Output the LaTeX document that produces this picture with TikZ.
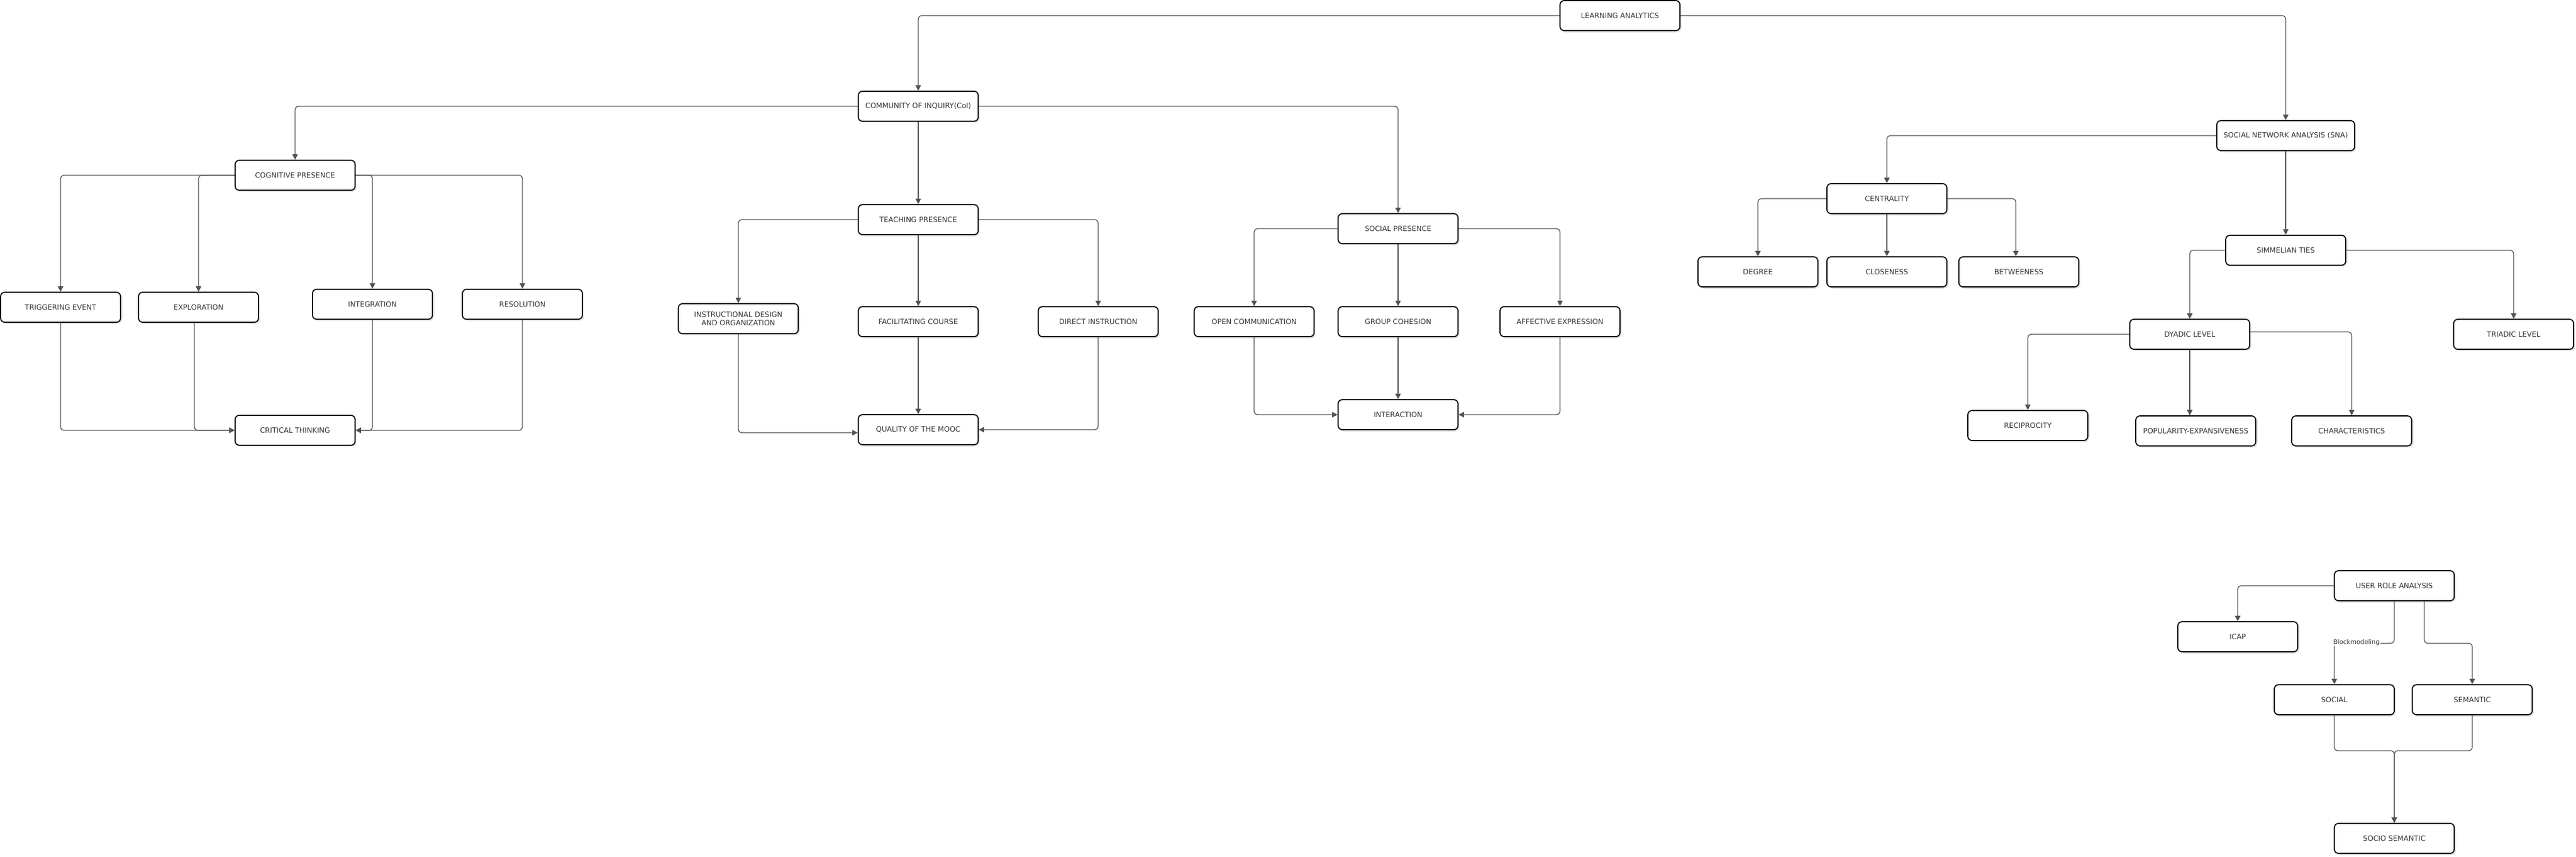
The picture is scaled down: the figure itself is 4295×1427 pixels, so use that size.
\documentclass[tikz,border=0pt]{standalone}
\usepackage{fontspec}
\setmainfont{DejaVu Sans}
\usetikzlibrary{positioning,shadows,arrows.meta}

\begin{document}
\begin{tikzpicture}[x=1pt,y=-1pt,
    box/.style={draw,rounded corners=7pt,line width=1.8pt,fill=white,minimum width=200pt,minimum height=50pt,align=center,
        font=\fontsize{12}{14}\selectfont,text=black!80,drop shadow={shadow xshift=2.5pt,shadow yshift=-2.5pt,opacity=0.25}},
    conn/.style={draw=black!68,line width=1.3pt,rounded corners=6pt},
    >={Triangle[length=9pt,width=9pt]}]
            \useasboundingbox (0,0) rectangle (4295,1427);
            \node[box] (la) at (2701,26) {LEARNING ANALYTICS};
            \node[box] (coi) at (1531,177) {COMMUNITY OF INQUIRY(CoI)};
            \node[box] (cog) at (492,292) {COGNITIVE PRESENCE};
            \node[box] (teach) at (1531,366) {TEACHING PRESENCE};
            \node[box] (socp) at (2331,381) {SOCIAL PRESENCE};
            \node[box,minimum width=230pt] (sna) at (3811,226) {SOCIAL NETWORK ANALYSIS (SNA)};
            \node[box] (trig) at (101,512) {TRIGGERING EVENT};
            \node[box] (expl) at (331,512) {EXPLORATION};
            \node[box] (integ) at (621,507) {INTEGRATION};
            \node[box] (resol) at (871,507) {RESOLUTION};
            \node[box] (crit) at (492,717) {CRITICAL THINKING};
            \node[box] (instr) at (1231,531) {INSTRUCTIONAL DESIGN\\AND ORGANIZATION};
            \node[box] (facil) at (1531,536) {FACILITATING COURSE};
            \node[box] (direct) at (1831,536) {DIRECT INSTRUCTION};
            \node[box] (mooc) at (1531,716) {QUALITY OF THE MOOC};
            \node[box] (open) at (2091,536) {OPEN COMMUNICATION};
            \node[box] (cohes) at (2331,536) {GROUP COHESION};
            \node[box] (affect) at (2601,536) {AFFECTIVE EXPRESSION};
            \node[box] (inter) at (2331,691) {INTERACTION};
            \node[box] (centr) at (3146,331) {CENTRALITY};
            \node[box] (degree) at (2931,453) {DEGREE};
            \node[box] (close) at (3146,453) {CLOSENESS};
            \node[box] (betw) at (3366,453) {BETWEENESS};
            \node[box] (simm) at (3811,417) {SIMMELIAN TIES};
            \node[box] (dyad) at (3651,557) {DYADIC LEVEL};
            \node[box] (triad) at (4191,557) {TRIADIC LEVEL};
            \node[box] (recip) at (3381,709) {RECIPROCITY};
            \node[box] (popul) at (3661,718) {POPULARITY-EXPANSIVENESS};
            \node[box] (charac) at (3921,718) {CHARACTERISTICS};
            \node[box] (ura) at (3992,976) {USER ROLE ANALYSIS};
            \node[box] (icap) at (3731,1061) {ICAP};
            \node[box] (social) at (3892,1166) {SOCIAL};
            \node[box] (seman) at (4122,1166) {SEMANTIC};
            \node[box] (socsem) at (3992,1397) {SOCIO SEMANTIC};
            \draw[conn,->] (la.west) -| (coi.north);
            \draw[conn,->] (la.east) -| (sna.north);
            \draw[conn,->] (coi.west) -| (cog.north);
            \draw[conn,->] (coi.south) -- (teach.north);
            \draw[conn,->] (coi.east) -| (socp.north);
            \draw[conn,->] (cog.west) -| (trig.north);
            \draw[conn,->] (cog.west) -| (expl.north);
            \draw[conn,->] (cog.east) -| (integ.north);
            \draw[conn,->] (cog.east) -| (resol.north);
            \draw[conn,->] (trig.south) |- (crit.west);
            \draw[conn,->] ([xshift=-7pt]expl.south) |- (crit.west);
            \draw[conn,->] (integ.south) |- (crit.east);
            \draw[conn,->] (resol.south) |- (crit.east);
            \draw[conn,->] (teach.west) -| (instr.north);
            \draw[conn,->] (teach.south) -- (facil.north);
            \draw[conn,->] (teach.east) -| (direct.north);
            \draw[conn,->] (instr.south) |- ([yshift=-5pt]mooc.west);
            \draw[conn,->] (facil.south) -- (mooc.north);
            \draw[conn,->] (direct.south) |- (mooc.east);
            \draw[conn,->] (socp.west) -| (open.north);
            \draw[conn,->] (socp.south) -- (cohes.north);
            \draw[conn,->] (socp.east) -| (affect.north);
            \draw[conn,->] (open.south) |- (inter.west);
            \draw[conn,->] (cohes.south) -- (inter.north);
            \draw[conn,->] (affect.south) |- (inter.east);
            \draw[conn,->] (sna.west) -| (centr.north);
            \draw[conn,->] (sna.south) -- (simm.north);
            \draw[conn,->] (centr.west) -| (degree.north);
            \draw[conn,->] (centr.south) -- (close.north);
            \draw[conn,->] (centr.east) -| ([xshift=-5pt]betw.north);
            \draw[conn,->] (simm.west) -| (dyad.north);
            \draw[conn,->] (simm.east) -| (triad.north);
            \draw[conn,->] (dyad.west) -| (recip.north);
            \draw[conn,->] (dyad.south) -- (dyad.south |- popul.north);
            \draw[conn,->] ([yshift=4pt]dyad.east) -| (charac.north);
            \draw[conn,->] (ura.west) -| (icap.north);
            \draw[conn,->] (ura.south) -- ++(0,70) -| (social.north);
            \draw[conn,->] ([xshift=50pt]ura.south) -- ++(0,70) -| (seman.north);
            \draw[conn,->] (social.south) -- ++(0,59) -| (socsem.north);
            \draw[conn,->] (seman.south) -- ++(0,59) -| (socsem.north);
            \node[fill=white,inner sep=1pt,font=\fontsize{10.5}{12}\selectfont,text=black!80] (bmlab) at (3929,1071) {Blockmodeling};
        \end{tikzpicture}
\end{document}
